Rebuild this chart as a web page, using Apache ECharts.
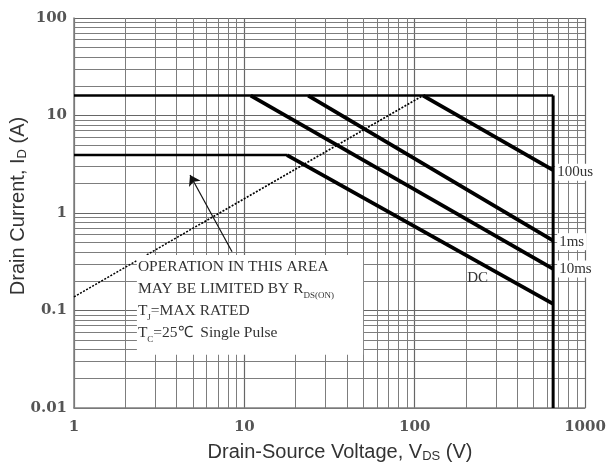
<!DOCTYPE html>
<html>
<head>
<meta charset="utf-8">
<script src="https://cdn.jsdelivr.net/npm/echarts@6/dist/echarts.min.js"></script>
<style>html,body{margin:0;padding:0;background:#fff}#c{width:612px;height:470px}</style>
</head>
<body>
<div id="c"></div>
<script>
// ---- data ----
const xTickLabels = ['1', '10', '100', '1000'];
const yTickLabels = ['0.01', '0.1', '1', '10', '100'];
const pulseNames = ['100us', '1ms', '10ms', 'DC'];
const limit100us = [[112, 16], [650, 2.75]];
const limit1ms = [[23.7, 16], [650, 0.52]];
const limit10ms = [[10.9, 16], [650, 0.267]];
const limitDCflat = [[1, 3.93], [17.8, 3.93]];
const limitDC = [[17.8, 3.93], [650, 0.117]];
const currentLimit = [[1, 16], [650, 16]];
const voltageLimit = [[650, 16], [650, 0.01]];
const rdsLimit = [[1, 0.138], [112, 16]];
const noteBox = [[2.34, 0.371], [49.8, 0.0352]];
const noteArrow = [[8.47, 0.40], [4.8, 2.45]];
const noteLines = [
  'OPERATION IN THIS AREA',
  'MAY BE LIMITED BY R{s|DS(ON)}',
  'T{s|J}=MAX RATED',
  'T{s|C}=25℃  Single Pulse'
];

// minor grid positions (2..9 in each decade)
const xMinor = [], yMinor = [];
[1, 10, 100].forEach(d => { for (let k = 2; k <= 9; k++) xMinor.push(k * d); });
[0.01, 0.1, 1, 10].forEach(d => { for (let k = 2; k <= 9; k++) yMinor.push(+(k * d).toPrecision(3)); });

const gridColor = '#7d7d7d';
const serifLabel = {fontFamily: 'Liberation Serif', fontSize: 15, color: '#333'};

function limitSeries(name, data, width, label) {
  const s = {
    type: 'line', name: name, data: data, symbol: 'none', z: 4, silent: true,
    lineStyle: {color: '#000', width: width, cap: 'butt'}, animation: false
  };
  if (label) s.endLabel = Object.assign({show: true, formatter: label.text, backgroundColor: label.bg ? '#fff' : 'transparent',
    padding: [1, 2], distance: 2, offset: label.offset}, serifLabel);
  return s;
}

const chart = echarts.init(document.getElementById('c'), null, {renderer: 'canvas'});
chart.setOption({
  animation: false,
  backgroundColor: '#fff',
  grid: {left: 74, right: 27, top: 18, bottom: 62, outerBoundsMode: 'none'},
  xAxis: {
    type: 'log', logBase: 10, min: 1, max: 1000,
    axisLine: {show: true, lineStyle: {color: '#808080', width: 1.5}},
    axisTick: {show: false},
    splitLine: {show: true, lineStyle: {color: '#666', width: 1.2}},
    axisLabel: {
      margin: 12, fontFamily: 'DejaVu Serif', fontWeight: 'bold', fontSize: 15, color: '#555',
      formatter: v => xTickLabels[Math.round(Math.log10(v))]
    }
  },
  yAxis: {
    type: 'log', logBase: 10, min: 0.01, max: 100,
    axisLine: {show: true, lineStyle: {color: '#808080', width: 1.5}},
    axisTick: {show: false},
    splitLine: {show: true, lineStyle: {color: '#666', width: 1.2}},
    axisLabel: {
      margin: 7, fontFamily: 'DejaVu Serif', fontWeight: 'bold', fontSize: 15, color: '#555',
      formatter: v => yTickLabels[Math.round(Math.log10(v)) + 2]
    }
  },
  graphic: [
    {type: 'text', x: 18, y: 206, rotation: Math.PI / 2, silent: true,
     style: {text: 'Drain Current, I{s|D} (A)', align: 'center', verticalAlign: 'middle',
       fontFamily: 'Liberation Sans', fontSize: 20, fill: '#333',
       rich: {s: {fontSize: 13, fontFamily: 'Liberation Sans', fill: '#333', verticalAlign: 'bottom', padding: [9, 0, 0, 0]}}}},
    {type: 'text', x: 340, y: 452, silent: true,
     style: {text: 'Drain-Source Voltage, V{s|DS} (V)', align: 'center', verticalAlign: 'middle',
       fontFamily: 'Liberation Sans', fontSize: 20, fill: '#333',
       rich: {s: {fontSize: 13, fontFamily: 'Liberation Sans', fill: '#333', verticalAlign: 'bottom', padding: [9, 0, 0, 0]}}}}
  ],
  series: [
    {type: 'line', data: [], z: 1, silent: true,
     markLine: {z: 1, silent: true, symbol: 'none', animation: false, label: {show: false},
       lineStyle: {color: gridColor, width: 1, type: 'solid'},
       data: xMinor.map(v => ({xAxis: v})).concat(yMinor.map(v => ({yAxis: v})))}},
    {type: 'line', data: rdsLimit, symbol: 'none', z: 2, silent: true,
     lineStyle: {color: '#000', width: 1.6, type: [2, 1.5]}},
    {type: 'line', data: [], z: 3, silent: true,
     markArea: {z: 3, silent: true, animation: false, itemStyle: {color: '#fff'},
       label: {show: true, position: 'insideTopLeft', distance: 1,
         formatter: noteLines.join('\n'), fontFamily: 'Liberation Serif', fontSize: 15.5, color: '#333', lineHeight: 22,
         rich: {s: {fontFamily: 'Liberation Serif', fontSize: 9, color: '#333', lineHeight: 22, verticalAlign: 'bottom'}}},
       data: [[{xAxis: noteBox[0][0], yAxis: noteBox[0][1]}, {xAxis: noteBox[1][0], yAxis: noteBox[1][1]}]]}},
    limitSeries('current', currentLimit, 2.5),
    limitSeries('voltage', voltageLimit, 3),
    limitSeries('dcflat', limitDCflat, 2.5),
    limitSeries(pulseNames[3], limitDC, 3.8, {text: pulseNames[3], offset: [-90, -26], bg: false}),
    limitSeries(pulseNames[2], limit10ms, 3.8, {text: pulseNames[2], offset: [2, 0], bg: true}),
    limitSeries(pulseNames[1], limit1ms, 3.8, {text: pulseNames[1], offset: [2, 1], bg: true}),
    limitSeries(pulseNames[0], limit100us, 3.8, {text: pulseNames[0], offset: [0, 2], bg: true}),
    {type: 'line', data: [], z: 5, silent: true,
     markLine: {z: 5, silent: true, animation: false, symbol: ['none', 'arrow'], symbolSize: 10, label: {show: false},
       lineStyle: {color: '#111', width: 1.2, type: 'solid'},
       data: [[{coord: noteArrow[0]}, {coord: noteArrow[1]}]]}}
  ]
});
</script>
</body>
</html>
